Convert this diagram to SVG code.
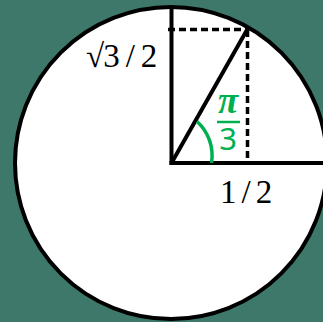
<svg xmlns="http://www.w3.org/2000/svg" width="323" height="322" viewBox="0 0 323 322">
  <style>
    .solid { stroke: #000; stroke-width: 4; fill: none; stroke-linecap: butt; }
    .dash { stroke: #000; stroke-width: 3.5; fill: none; stroke-dasharray: 7 4; }
    .lbl { font-family: "Liberation Serif", "DejaVu Serif", serif; font-size: 33px; fill: #000; }
    .pi { font-family: "Liberation Serif", "DejaVu Serif", serif; font-size: 37px; font-style: italic; font-weight: bold; fill: #00b050; }
    .three { font-family: "Noto Sans", "Liberation Sans", sans-serif; font-size: 31px; fill: #00b050; }
  </style>
  <rect x="0" y="0" width="323" height="322" fill="#3e786b"/>
  <g id="circle">
    <circle cx="171" cy="163" r="156" fill="#fff" stroke="#000" stroke-width="4"/>
  </g>
  <g id="connectors">
    <line class="solid" x1="171.5" y1="7" x2="171.5" y2="165"/>
    <line class="solid" x1="169.5" y1="163" x2="323" y2="163"/>
    <line class="solid" x1="171.5" y1="163" x2="247.5" y2="29"/>
    <line class="dash" x1="168" y1="29.5" x2="247" y2="29.5"/>
    <line class="dash" x1="247.5" y1="30" x2="247.5" y2="163"/>
    <path d="M 211.5 163 A 46 46 0 0 0 197 121.5" stroke="#00b050" stroke-width="3.5" fill="none"/>
  </g>
  <g id="label-sqrt3">
    <text class="lbl" x="86" y="67">√<tspan dx="-1">3</tspan><tspan dx="6">/</tspan><tspan dx="6">2</tspan></text>
  </g>
  <g id="label-half">
    <text class="lbl" x="220" y="203">1<tspan dx="5">/</tspan><tspan dx="5">2</tspan></text>
  </g>
  <g id="label-angle">
    <text class="pi" x="228" y="113" text-anchor="middle">π</text>
    <line x1="217" y1="122" x2="240" y2="122" stroke="#00b050" stroke-width="2.5"/>
    <text class="three" x="228" y="150" text-anchor="middle">3</text>
  </g>
</svg>
